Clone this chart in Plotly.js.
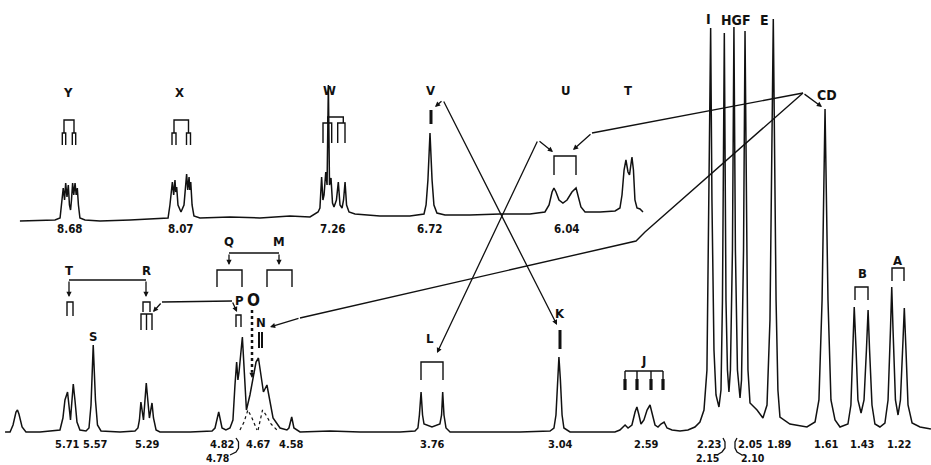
<!DOCTYPE html>
<html><head><meta charset="utf-8">
<script src="https://cdn.plot.ly/plotly-3.0.1.min.js"></script>
<style>html,body{margin:0;padding:0;background:#fff;overflow:hidden}</style>
</head><body><div id="chart" style="width:931px;height:465px"></div>
<script>
// ---------- lower spectrum (chemical shift in ppm, relative intensity) ----------
const lowerShift = [
 6.052,6.025,6.009,5.993,5.985,5.977,5.960,5.939,5.863,5.782,
 5.755,5.739,5.728,5.714,5.706,5.698,5.695,5.683,5.674,5.663,
 5.647,5.614,5.598,5.587,5.575,5.563,5.552,5.533,5.430,5.349,
 5.333,5.325,5.317,5.308,5.303,5.288,5.276,5.271,5.257,5.249,
 5.235,5.214,5.051,4.932,4.916,4.896,4.878,4.857,4.835,4.819,
 4.808,4.799,4.792,4.786,4.768,4.759,4.746,4.727,4.710,4.694,
 4.681,4.667,4.654,4.635,4.621,4.602,4.564,4.527,4.516,4.501,
 4.489,4.456,4.294,4.131,3.915,3.834,3.818,3.810,3.801,3.793,
 3.785,3.742,3.699,3.690,3.684,3.677,3.666,3.644,3.482,3.266,
 3.103,3.082,3.071,3.063,3.055,3.047,3.038,3.028,2.995,2.833,
 2.752,2.725,2.697,2.681,2.660,2.643,2.633,2.622,2.611,2.595,
 2.578,2.562,2.551,2.535,2.519,2.503,2.486,2.470,2.443,2.400,
 2.357,2.319,2.292,2.270,2.254,2.243,2.234,2.227,2.216,2.205,
 2.189,2.178,2.170,2.160,2.151,2.143,2.135,2.127,2.116,2.108,
 2.100,2.089,2.075,2.067,2.056,2.048,2.040,2.032,2.021,1.983,
 1.951,1.929,1.913,1.895,1.880,1.870,1.859,1.805,1.713,1.669,
 1.648,1.631,1.615,1.599,1.583,1.561,1.534,1.491,1.475,1.464,
 1.457,1.447,1.437,1.420,1.404,1.391,1.382,1.374,1.361,1.345,
 1.318,1.291,1.274,1.261,1.254,1.247,1.234,1.220,1.207,1.193,
 1.186,1.177,1.166,1.144,1.101,1.042];
const lowerIntensity = [
 0,0,7,20,22,18,5,0,0,1,
 2,14,32,40,27,12,20,48,32,10,
 2,1,4,27,87,32,7,1,0,1,
 4,12,30,17,12,49,22,14,29,14,
 2,0,0,1,4,20,4,2,4,12,
 47,70,52,60,95,62,22,37,54,70,
 74,57,40,47,32,14,4,2,4,15,
 4,0,1,0,0,1,4,17,40,17,
 8,5,8,17,40,17,4,0,0,0,
 1,4,17,52,75,52,17,4,0,0,
 0,2,7,4,7,20,25,17,8,12,
 22,27,19,7,5,8,10,4,2,1,
 2,5,10,22,62,232,404,232,82,37,
 25,42,132,399,132,62,40,62,182,405,
 182,62,34,52,182,401,182,62,29,22,
 14,27,112,413,132,42,15,8,5,10,
 32,132,323,132,32,12,5,8,27,82,
 125,82,32,19,32,82,122,82,27,8,
 5,9,32,102,145,102,32,17,32,92,
 124,82,27,9,5,3];

// deconvoluted components (dotted) under the 4.6-4.8 ppm cluster
const compOShift = [4.781,4.759,4.738,4.716,4.689];
const compOIntensity = [2,10,22,14,2];
const compNShift = [4.683,4.673,4.659,4.640,4.613,4.581];
const compNIntensity = [2,12,22,17,8,2];

// ---------- upper (inset) spectrum ----------
const upperShift = [
 8.947,8.840,8.760,8.733,8.723,8.716,8.709,8.703,8.696,8.689,
 8.683,8.677,8.672,8.666,8.660,8.653,8.647,8.641,8.635,8.627,
 8.600,8.520,8.360,8.200,8.157,8.147,8.134,8.127,8.120,8.116,
 8.111,8.104,8.088,8.072,8.058,8.052,8.045,8.041,8.036,8.029,
 8.019,7.987,7.827,7.667,7.507,7.400,7.357,7.347,7.338,7.331,
 7.325,7.316,7.309,7.302,7.296,7.288,7.280,7.272,7.259,7.249,
 7.240,7.229,7.221,7.213,7.205,7.192,7.160,7.027,6.867,6.792,
 6.781,6.771,6.760,6.749,6.739,6.723,6.680,6.547,6.387,6.227,
 6.147,6.125,6.109,6.099,6.088,6.072,6.051,6.029,6.003,5.981,
 5.971,5.955,5.933,5.853,5.773,5.747,5.736,5.725,5.715,5.704,
 5.696,5.688,5.683,5.675,5.667,5.656,5.640,5.624];
const upperIntensity = [
 1,2,2,4,22,34,22,39,25,37,
 17,12,22,39,27,39,27,34,17,4,
 2,1,2,3,4,17,40,27,42,30,
 35,17,10,17,48,32,45,32,40,17,
 6,4,5,4,6,5,10,14,45,22,
 27,50,37,137,37,44,19,15,22,40,
 17,14,22,40,17,10,8,6,6,8,
 17,42,89,42,17,9,7,7,8,8,
 10,17,30,34,30,22,19,22,30,34,
 27,15,10,10,11,14,27,52,62,50,
 47,57,65,52,22,14,13,10];

// ---------- texts ----------
const upperShiftLabels = ['8.68','8.07','7.26','6.72','6.04'];
const lowerShiftLabels = ['5.71','5.57','5.29','4.82','4.67','4.58','3.76','3.04','2.59','2.23','2.05','1.89','1.61','1.43','1.22'];
const lowerShiftLabels2 = ['4.78','2.15','2.10'];
const upperLetters = ['Y','X','W','V','U','T'];
const topLetters = ['I','HGF','E','CD'];
const lowerLetters = ['T','R','Q','M','P','N','S','L','K','J','B','A'];

// ---------- layout helpers (pixel positions of decorations) ----------
const W = 931, H = 465, INK = '#111';
const px = x => x / W, py = y => 1 - y / H;
const FONT = '"DejaVu Sans Condensed","DejaVu Sans",sans-serif';
const shapes = [], ann = [];
function path(pts, w, dash) {
  const d = 'M' + pts.map(p => px(p[0]).toFixed(5) + ',' + py(p[1]).toFixed(5)).join(' L');
  shapes.push({type:'path', xref:'paper', yref:'paper', path:d,
    line:{color:INK, width:w || 1.4, dash:dash || 'solid'}});
}
function fork(x0, x1, top, bottom, w) { path([[x0,bottom],[x0,top],[x1,top],[x1,bottom]], w); }
function txt(t, x, y, size) {
  ann.push({xref:'paper', yref:'paper', x:px(x), y:py(y), text:'<b>' + t + '</b>', showarrow:false,
    xanchor:'center', yanchor:'middle', font:{family:FONT, size:size, color:INK}});
}
function arrow(tx, ty, fx, fy) {
  ann.push({xref:'paper', yref:'paper', x:px(tx), y:py(ty), ax:fx - tx, ay:fy - ty, text:'',
    showarrow:true, arrowhead:2, arrowsize:0.8, arrowwidth:1.3, arrowcolor:INK});
}

// multiplet stick diagrams, upper
path([[64,133],[64,120],[74,120],[74,133]]); fork(62.3,65.7,133,145); fork(72.3,75.7,133,145);
path([[174,133],[174,120],[188.5,120],[188.5,133]]); fork(172,176,133,145); fork(186.5,190.5,133,145);
path([[327.7,123],[327.7,117],[343.3,117],[343.3,123]]); fork(323,331.7,123,143); fork(337.7,345,123,143);
path([[431,110],[431,124]], 3);
fork(554,576,156,175);
// arrows V<->K, U<->L, CD
arrow(435,107,443,100); arrow(557,325,443,100);
arrow(553,152,538,140); arrow(437,353,538,140);
path([[803,93],[592,133]]); arrow(573,150,592,133);
arrow(822,107,803,93);
path([[803,93],[645,232],[636,241],[300,318]]); arrow(270,327,300,318);
// lower stick diagrams
path([[69,280],[146,280]]); arrow(69,297,69,280); arrow(146,297,146,280);
fork(67,73,302,316);
fork(143,150,302,312); path([[141,330],[141,314],[152,314],[152,330]]); path([[146.5,314],[146.5,330]]);
arrow(153,312,162,302); path([[162,302],[232,301]]); arrow(237,312,232,301);
path([[229,253],[279,253]]); arrow(229,265,229,253); arrow(279,265,279,253);
fork(217,242,270,287); fork(267,292,270,287);
fork(236,241,315,327);
path([[259,332],[259,348]], 2); path([[262,332],[262,348]], 2);
path([[252,310],[252,372]], 2.5, 'dot'); arrow(252,378,252,370);
fork(421,443,362,380);
path([[560,330],[560,349]], 3);
path([[625,371],[663,371]]);
[625,637,651,663].forEach(x => { path([[x,371],[x,380]]); path([[x,379],[x,390]], 3.2); });
fork(855,868,287,300); fork(892,904,268,281);
// braces linking the second-row shift values
path([[236,438],[238.5,442],[238.5,448],[236,452],[230,455]], 1.3);
path([[723,438],[725,442],[725,448],[722,452],[717,455]], 1.3);
path([[737,438],[735,442],[735,448],[737,452],[742,455]], 1.3);

// texts: letters
const upperLetterPos = [[68,93],[179,93],[329,90],[430,90],[566,90],[628,90]];
upperLetters.forEach((t,i) => txt(t, upperLetterPos[i][0], upperLetterPos[i][1], 13));
const topLetterPos = [[708,19],[735,20],[764,20],[827,95]];
topLetters.forEach((t,i) => txt(t, topLetterPos[i][0], topLetterPos[i][1], 14));
const lowerLetterPos = [[69,270],[146,270],[229,242],[279,242],[239,300],[261,322],[93,336],[430,338],[560,313],[643,360],[862,273],[897,260]];
lowerLetters.forEach((t,i) => txt(t, lowerLetterPos[i][0], lowerLetterPos[i][1], 13));
txt('O', 253, 300, 17);
// texts: shift values
const upperLabelPos = [70,181,333,430,567];
upperShiftLabels.forEach((t,i) => txt(t, upperLabelPos[i], 229, 11.5));
const lowerLabelPos = [67,95,147,222,258,291,432,560,646,709,750,779,826,862,899];
lowerShiftLabels.forEach((t,i) => txt(t, lowerLabelPos[i], 444, 11));
const lowerLabel2Pos = [217,707,753];
lowerShiftLabels2.forEach((t,i) => txt(t, lowerLabel2Pos[i], 458, 10.5));

// ---------- traces ----------
const ink = {color:INK, width:1.5};
const traces = [
  {x:lowerShift, y:lowerIntensity, type:'scatter', mode:'lines', line:ink, xaxis:'x', yaxis:'y', hoverinfo:'skip'},
  {x:compOShift, y:compOIntensity, type:'scatter', mode:'lines', line:{color:INK, width:1.2, dash:'dot'}, xaxis:'x', yaxis:'y', hoverinfo:'skip'},
  {x:compNShift, y:compNIntensity, type:'scatter', mode:'lines', line:{color:INK, width:1.2, dash:'dot'}, xaxis:'x', yaxis:'y', hoverinfo:'skip'},
  {x:upperShift, y:upperIntensity, type:'scatter', mode:'lines', line:ink, xaxis:'x2', yaxis:'y2', hoverinfo:'skip'}
];
const hidden = {visible:false, showgrid:false, zeroline:false, fixedrange:true};
const layout = {
  width:W, height:H, margin:{l:0,r:0,t:0,b:0}, showlegend:false,
  paper_bgcolor:'#fff', plot_bgcolor:'#fff',
  xaxis: Object.assign({range:[6.0795, 1.0416]}, hidden),
  yaxis: Object.assign({range:[-33, 432]}, hidden),
  xaxis2: Object.assign({range:[9.0533, 4.0880], overlaying:'x', anchor:'y2'}, hidden),
  yaxis2: Object.assign({range:[-243, 222], overlaying:'y', anchor:'x2'}, hidden),
  shapes: shapes, annotations: ann
};
Plotly.newPlot('chart', traces, layout, {staticPlot:true, displayModeBar:false});
</script></body></html>
